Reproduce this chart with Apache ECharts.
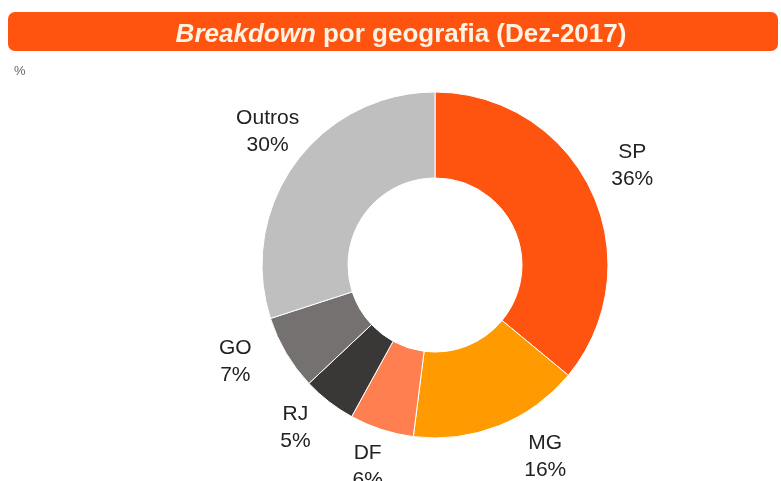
<!DOCTYPE html>
<html>
<head>
<meta charset="utf-8">
<script src="https://cdn.jsdelivr.net/npm/echarts@6/dist/echarts.min.js"></script>
<style>
  html, body { margin: 0; padding: 0; background: #fff; }
  #chart { width: 781px; height: 481px; }
</style>
</head>
<body>
<div id="chart"></div>
<script>
const regions = ['SP', 'MG', 'DF', 'RJ', 'GO', 'Outros'];
const shares = [36, 16, 6, 5, 7, 30];
const colors = ['#FF5310', '#FF9A00', '#FF7F50', '#3A3737', '#767171', '#BFBFBF'];

const center = [435, 265];

// small label nudges so they sit like the original (best-fit placement)
const labelNudge = {
  SP: [0, -6],
  MG: [30, -11],
  DF: [0, -6],
  RJ: [-6, -10],
  GO: [-12, -14],
  Outros: [9, -5],
};

const chart = echarts.init(document.getElementById('chart'));

chart.setOption({
  animation: false,
  graphic: [
    {
      type: 'rect',
      shape: { x: 8, y: 12, width: 770, height: 39, r: 7 },
      style: { fill: '#FF5310' },
      z: 0,
    },
  ],
  title: [
    {
      text: '{i|Breakdown} por geografia (Dez-2017)',
      left: 396,
      top: 17,
      textAlign: 'center',
      textStyle: {
        fontFamily: 'Liberation Sans, Arial, sans-serif',
        fontSize: 26,
        fontWeight: 'bold',
        color: '#FFF3E4',
        rich: {
          i: {
            fontFamily: 'Liberation Sans, Arial, sans-serif',
            fontSize: 26,
            fontWeight: 'bold',
            fontStyle: 'italic',
            color: '#FFF3E4',
          },
        },
      },
      z: 5,
    },
    {
      text: '%',
      left: 9,
      top: 60,
      textStyle: {
        fontFamily: 'Liberation Sans, Arial, sans-serif',
        fontSize: 13,
        fontWeight: 'normal',
        color: '#666',
      },
    },
  ],
  series: [
    {
      type: 'pie',
      center,
      radius: [87, 173],
      startAngle: 90,
      clockwise: true,
      data: regions.map((name, i) => ({
        name,
        value: shares[i],
        itemStyle: { color: colors[i] },
      })),
      itemStyle: { borderColor: '#fff', borderWidth: 1 },
      label: { show: false },
      labelLine: { show: false },
      emphasis: { disabled: true },
    },
    {
      // transparent ring used only to place the labels around the donut
      type: 'pie',
      center,
      radius: [173, 257],
      startAngle: 90,
      clockwise: true,
      silent: true,
      data: regions.map((name, i) => ({
        name,
        value: shares[i],
        label: { offset: labelNudge[name] },
      })),
      itemStyle: { color: 'rgba(0,0,0,0)' },
      label: {
        show: true,
        position: 'inside',
        formatter: '{b}\n{c}%',
        fontFamily: 'Liberation Sans, Arial, sans-serif',
        fontSize: 21,
        lineHeight: 27,
        color: '#222',
        align: 'center',
      },
      labelLine: { show: false },
      emphasis: { disabled: true },
    },
  ],
});
</script>
</body>
</html>
